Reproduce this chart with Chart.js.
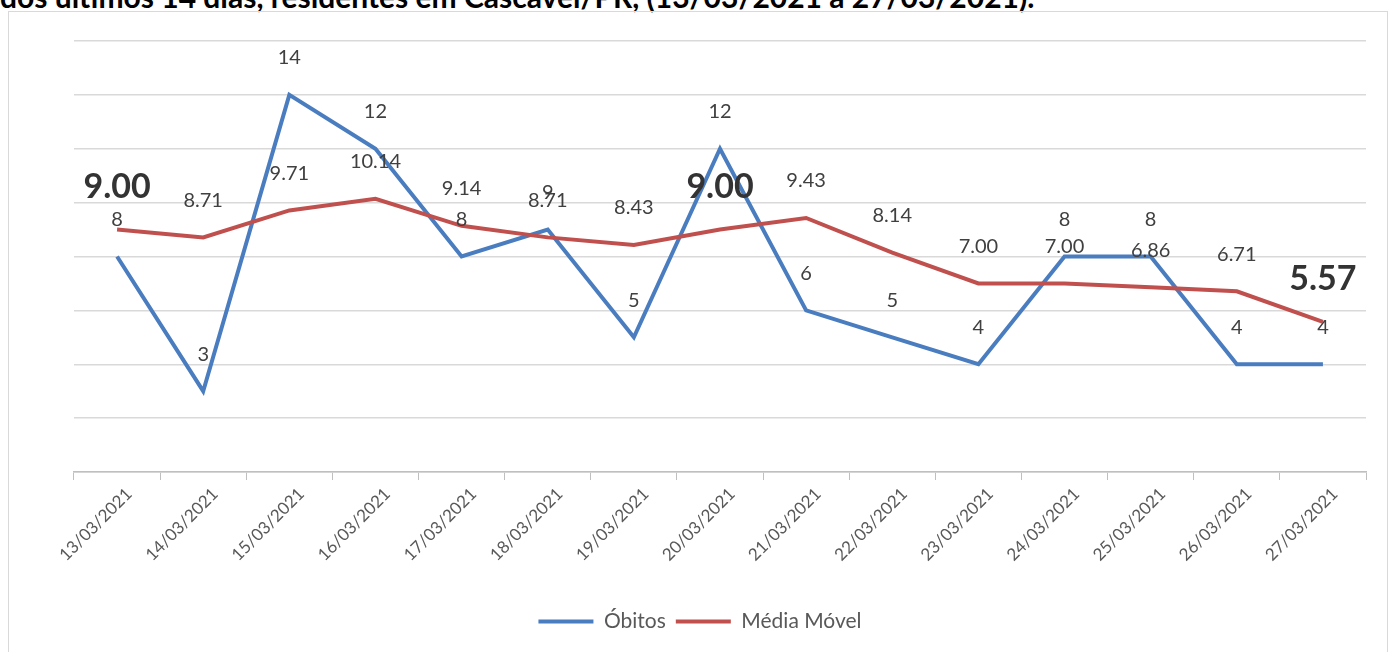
<!DOCTYPE html>
<html lang="pt-BR">
<head>
<meta charset="utf-8">
<title>Óbitos e média móvel - Cascavel/PR</title>
<script src="https://cdn.jsdelivr.net/npm/chart.js@4.4.1/dist/chart.umd.min.js"></script>
<style>
  html, body { margin: 0; padding: 0; background: #fff; }
  body { width: 1394px; height: 652px; position: relative; overflow: hidden; font-family: Lato, "Noto Sans", sans-serif; }
  #titulo { position: absolute; left: 0; top: -19px; font-weight: 700; font-size: 30px; line-height: 30px; color: #000; white-space: nowrap; }
  #quadro { position: absolute; left: 8px; top: 11px; width: 1378px; height: 660px; border: 1px solid #d9d9d9; }
  #grafico { position: absolute; left: 0; top: 0; }
</style>
</head>
<body>
<div id="titulo">dos últimos 14 dias, residentes em Cascavel/PR, (13/03/2021 a 27/03/2021).</div>
<div id="quadro"></div>
<canvas id="grafico" width="1394" height="652"></canvas>
<script>
// dados
const datas = ['13/03/2021', '14/03/2021', '15/03/2021', '16/03/2021', '17/03/2021',
  '18/03/2021', '19/03/2021', '20/03/2021', '21/03/2021', '22/03/2021',
  '23/03/2021', '24/03/2021', '25/03/2021', '26/03/2021', '27/03/2021'];
const obitos = [8, 3, 14, 12, 8, 9, 5, 12, 6, 5, 4, 8, 8, 4, 4];
const mediaMovel = [9.00, 8.71, 9.71, 10.14, 9.14, 8.71, 8.43, 9.00, 9.43, 8.14, 7.00, 7.00, 6.86, 6.71, 5.57];
// rótulos da média móvel que aparecem em destaque
const destaquesMedia = [0, 7, 14];

const AZUL = '#4a7dbf';
const VERMELHO = '#c0504d';

// desenha os valores acima de cada ponto
const rotulosDados = {
  id: 'rotulosDados',
  afterDatasetsDraw(chart) {
    const ctx = chart.ctx;
    ctx.save();
    ctx.textAlign = 'center';
    ctx.textBaseline = 'middle';
    chart.data.datasets.forEach((ds, i) => {
      const media = ds.label === 'Média Móvel';
      chart.getDatasetMeta(i).data.forEach((pt, j) => {
        const forte = media && destaquesMedia.includes(j);
        ctx.font = forte ? 'bold 34px Lato' : '20px Lato';
        ctx.fillStyle = forte ? '#333333' : '#404040';
        const texto = media ? ds.data[j].toFixed(2) : String(ds.data[j]);
        ctx.fillText(texto, pt.x, pt.y - (forte ? 43 : 37));
      });
    });
    ctx.restore();
  }
};

new Chart(document.getElementById('grafico'), {
  type: 'line',
  data: {
    labels: datas,
    datasets: [
      { label: 'Óbitos', data: obitos, borderColor: AZUL, backgroundColor: AZUL, borderWidth: 4, pointRadius: 0, tension: 0, order: 1 },
      { label: 'Média Móvel', data: mediaMovel, borderColor: VERMELHO, backgroundColor: VERMELHO, borderWidth: 4, pointRadius: 0, tension: 0, order: 0 }
    ]
  },
  options: {
    responsive: false,
    animation: false,
    devicePixelRatio: 1,
    layout: { padding: { left: 34, right: 28, top: 41, bottom: 10 } },
    scales: {
      x: {
        offset: true,
        grid: { drawOnChartArea: false, offset: true, tickLength: 8, color: '#bfbfbf', lineWidth: 1 },
        border: { color: '#bfbfbf', width: 1.5 },
        ticks: { color: '#595959', font: { family: 'Lato', size: 17 }, minRotation: 45, maxRotation: 45, autoSkip: false, padding: 4, labelOffset: 12 },
        afterFit: s => { s.height = 129; }
      },
      y: {
        min: 0,
        max: 16,
        ticks: { stepSize: 2, display: false },
        grid: { color: '#d9d9d9', lineWidth: 1.5, drawTicks: false },
        border: { display: false },
        afterFit: s => { s.width = 40; }
      }
    },
    plugins: {
      tooltip: { enabled: false },
      legend: {
        position: 'bottom',
        labels: {
          usePointStyle: true,
          pointStyle: 'line',
          pointStyleWidth: 55,
          color: '#595959',
          font: { family: 'Lato', size: 21 },
          padding: 10,
          sort: (a, b) => a.datasetIndex - b.datasetIndex
        }
      }
    }
  },
  plugins: [rotulosDados]
});
</script>
</body>
</html>
